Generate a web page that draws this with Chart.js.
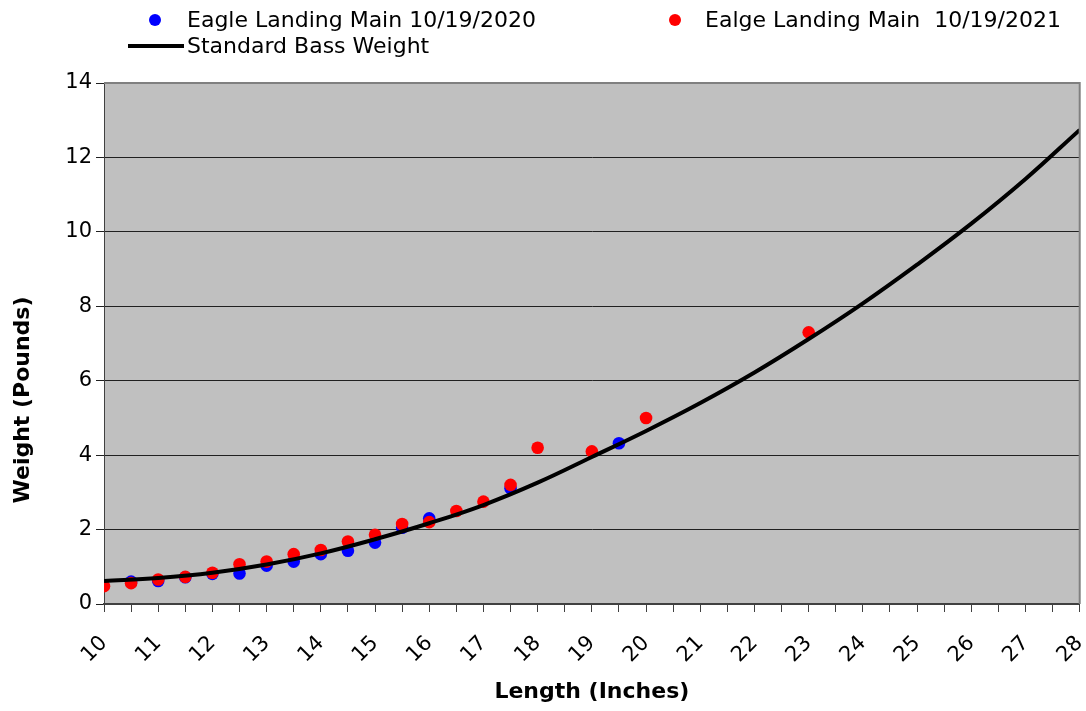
<!DOCTYPE html>
<html>
<head>
<meta charset="utf-8">
<script src="https://cdn.jsdelivr.net/npm/chart.js@4.4.0/dist/chart.umd.min.js"></script>
<style>
  html, body { margin: 0; padding: 0; background: #fff; }
  #wrap { position: relative; width: 1086px; height: 711px; }
  #legend { position: absolute; left: 0; top: 0; font: 22px "DejaVu Sans", sans-serif; color: #000; }
  .item { position: absolute; white-space: pre; line-height: 26px; }
  .dot { position: absolute; width: 12px; height: 12px; border-radius: 50%; }
  .bar { position: absolute; height: 4px; background: #000; }
</style>
</head>
<body>
<div id="wrap">
  <canvas id="chart" width="1086" height="711"></canvas>
  <div id="legend"></div>
</div>
<script>
// Lengths (inches) and weights (pounds)
const lengths2020 = [10.5, 11, 11.5, 12, 12.5, 13, 13.5, 14, 14.5, 15, 15.5, 16, 17.5, 19.5];
const weights2020 = [0.6, 0.62, 0.72, 0.81, 0.82, 1.03, 1.14, 1.34, 1.43, 1.65, 2.05, 2.3, 3.11, 4.32];

const lengths2021 = [10, 10.5, 11, 11.5, 12, 12.5, 13, 13.5, 14, 14.5, 15, 15.5, 16, 16.5, 17, 17.5, 18, 19, 20, 23];
const weights2021 = [0.48, 0.56, 0.66, 0.73, 0.84, 1.07, 1.14, 1.34, 1.45, 1.68, 1.86, 2.15, 2.2, 2.5, 2.75, 3.2, 4.2, 4.1, 5.0, 7.3];

const stdLengths = [10, 11, 12, 13, 14, 15, 16, 17, 18, 19, 20, 21, 22, 23, 24, 25, 26, 27, 28];
const stdWeights = [0.62, 0.7, 0.84, 1.06, 1.36, 1.74, 2.17, 2.66, 3.26, 3.95, 4.65, 5.4, 6.22, 7.12, 8.08, 9.12, 10.22, 11.42, 12.74];

const seriesNames = ['Eagle Landing Main 10/19/2020', 'Ealge Landing Main  10/19/2021', 'Standard Bass Weight'];
const xTitle = 'Length (Inches)';
const yTitle = 'Weight (Pounds)';

const toPoints = (xs, ys) => xs.map((x, i) => ({ x: x, y: ys[i] }));

// legend, laid out like the original (two columns, two rows)
const legend = document.getElementById('legend');
legend.innerHTML =
  '<div class="dot" style="left:149px;top:14px;background:#0000ff"></div>' +
  '<div class="item" style="left:187px;top:7px">' + seriesNames[0] + '</div>' +
  '<div class="dot" style="left:669px;top:14px;background:#ff0000"></div>' +
  '<div class="item" style="left:705px;top:7px">' + seriesNames[1] + '</div>' +
  '<div class="bar" style="left:128px;top:44px;width:56px"></div>' +
  '<div class="item" style="left:187px;top:33px">' + seriesNames[2] + '</div>';

const plotBackground = {
  id: 'plotBackground',
  beforeDraw(chart) {
    const { ctx, chartArea: a } = chart;
    ctx.save();
    ctx.fillStyle = '#c0c0c0';
    ctx.fillRect(a.left, a.top, a.right - a.left, a.bottom - a.top);
    ctx.restore();
  },
  afterDraw(chart) {
    const { ctx, chartArea: a } = chart;
    ctx.save();
    ctx.strokeStyle = '#808080';
    ctx.lineWidth = 2;
    ctx.beginPath();
    ctx.moveTo(a.left, a.top);
    ctx.lineTo(a.right, a.top);
    ctx.lineTo(a.right, a.bottom);
    ctx.stroke();
    // y axis title, placed where the original has it
    ctx.fillStyle = '#000';
    ctx.font = 'bold 22px "DejaVu Sans"';
    ctx.textAlign = 'center';
    ctx.textBaseline = 'middle';
    ctx.translate(23, 400);
    ctx.rotate(-Math.PI / 2);
    ctx.fillText(yTitle, 0, 0);
    ctx.restore();
  }
};

new Chart(document.getElementById('chart'), {
  type: 'scatter',
  data: {
    datasets: [{
      label: seriesNames[2],
      data: toPoints(stdLengths, stdWeights),
      showLine: true,
      borderColor: '#000',
      borderWidth: 4,
      pointRadius: 0,
      tension: 0.4,
      order: 0
    }, {
      label: seriesNames[1],
      data: toPoints(lengths2021, weights2021),
      backgroundColor: '#ff0000',
      borderWidth: 0,
      pointRadius: 6.3,
      order: 1
    }, {
      label: seriesNames[0],
      data: toPoints(lengths2020, weights2020),
      backgroundColor: '#0000ff',
      borderWidth: 0,
      pointRadius: 6.3,
      order: 2
    }]
  },
  options: {
    responsive: false,
    animation: false,
    layout: { padding: { top: 83, right: 6, left: 0, bottom: 0 } },
    plugins: { legend: { display: false }, tooltip: { enabled: false } },
    scales: {
      x: {
        type: 'linear',
        min: 10,
        max: 28,
        afterFit(scale) {
          scale.height = 107;
          scale.paddingRight = 0;
        },
        ticks: {
          stepSize: 0.5,
          autoSkip: false,
          minRotation: 45,
          maxRotation: 45,
          padding: 19,
          color: '#000',
          font: { family: 'DejaVu Sans', size: 21 },
          callback: v => Number.isInteger(v) ? String(v) : ''
        },
        grid: { drawOnChartArea: false, tickLength: 8, color: '#404040' },
        border: { color: '#404040', width: 2 },
        title: {
          display: true,
          text: xTitle,
          color: '#000',
          font: { family: 'DejaVu Sans', size: 22, weight: 'bold' },
          padding: { top: 0, bottom: 6 }
        }
      },
      y: {
        min: 0,
        max: 14,
        afterFit(scale) { scale.width = 104; },
        ticks: {
          stepSize: 2,
          padding: 4,
          color: '#000',
          font: { family: 'DejaVu Sans', size: 21 }
        },
        grid: { color: '#202020', tickLength: 8 },
        border: { color: '#404040', width: 1 }
      }
    }
  },
  plugins: [plotBackground]
});
</script>
</body>
</html>
